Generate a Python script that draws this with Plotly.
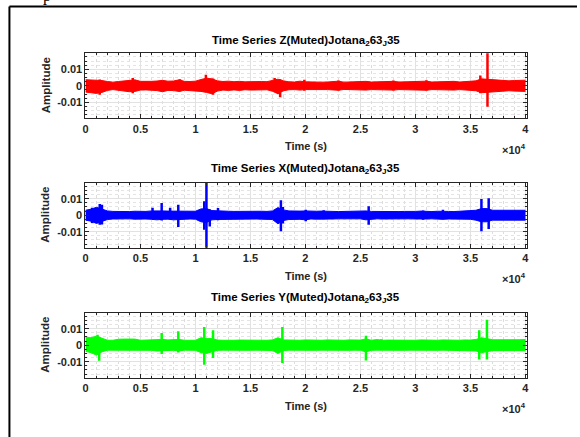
import numpy as np
import plotly.graph_objects as go

W, H = 580, 437

# ---------------- data (amplitudes in units of 1e-3) ----------------
t_grid = list(range(0, 40001, 500))  # envelope sample times (s)

z_up = [3.7, 3.5, 3.5, 3.2, 2.6, 2.2, 2.6, 2.9, 3.4, 3.6, 2.7, 2.5, 2.7, 2.9, 3.3, 2.8, 2.9, 3.6, 2.7, 2.6,
        2.8, 3.8, 4.6, 4.2, 3.0, 2.6, 2.8, 2.5, 2.7, 2.4, 2.6, 2.4, 2.6, 2.5, 3.2, 4.0, 3.0, 2.4, 2.3, 2.8,
        2.4, 2.2, 2.4, 2.2, 2.3, 2.5, 2.8, 2.2, 2.4, 2.3, 2.5, 2.7, 2.3, 2.4, 2.2, 2.5, 2.7, 2.3, 2.4, 2.2,
        2.4, 2.5, 2.8, 2.3, 2.4, 2.6, 2.4, 2.7, 2.3, 2.5, 2.6, 3.0, 4.2, 4.0, 3.6, 3.2, 3.3, 3.0, 3.2, 3.1, 3.4]
z_lo = [-3.8, -4.0, -4.6, -4.0, -2.8, -2.3, -2.6, -3.0, -3.6, -3.4, -2.6, -2.5, -2.7, -2.9, -3.6, -2.8, -2.9, -3.4, -2.7, -2.8,
        -2.9, -3.4, -4.0, -4.8, -3.2, -2.6, -2.8, -2.5, -2.8, -2.4, -2.6, -2.5, -2.6, -2.4, -3.3, -4.8, -3.0, -2.4, -2.3, -2.6,
        -2.3, -2.2, -2.4, -2.2, -2.3, -2.5, -2.7, -2.2, -2.4, -2.3, -2.5, -2.6, -2.3, -2.4, -2.2, -2.5, -2.6, -2.3, -2.4, -2.2,
        -2.4, -2.5, -2.7, -2.3, -2.4, -2.5, -2.4, -2.6, -2.3, -2.5, -2.6, -3.0, -4.2, -4.0, -3.6, -3.2, -3.3, -3.0, -3.2, -3.1, -3.4]
z_ev_t = [1300, 4300, 8600, 10950, 11600, 17200, 17700, 19900, 23000, 28000, 31000, 35900, 36550]
z_ev_up = [3.8, 4.7, 4.0, 6.7, 4.5, 4.7, 4.0, 3.7, 3.2, 3.2, 3.3, 6.2, 25.0]
z_ev_lo = [-5.5, -4.5, -3.5, -3.5, -5.5, -3.0, -7.0, -3.0, -2.8, -2.8, -2.9, -4.5, -12.7]

x_up = [3.0, 3.6, 4.8, 3.8, 2.6, 2.3, 2.2, 2.3, 2.2, 2.4, 2.2, 2.3, 2.6, 2.8, 2.6, 2.5, 2.5, 2.4, 2.3, 2.3,
        2.4, 3.8, 4.0, 2.8, 2.8, 2.5, 2.4, 2.3, 2.4, 2.3, 2.4, 2.3, 2.4, 2.3, 2.6, 4.6, 3.2, 2.6, 2.4, 2.5,
        2.6, 2.3, 2.4, 2.5, 2.2, 2.3, 2.2, 2.3, 2.2, 2.3, 2.2, 2.6, 2.3, 2.2, 2.3, 2.2, 2.3, 2.2, 2.3, 2.2,
        2.3, 2.5, 2.3, 2.2, 2.4, 2.5, 2.3, 2.2, 2.3, 2.4, 2.5, 3.0, 4.0, 4.0, 3.0, 3.0, 2.9, 2.8, 2.9, 2.8, 3.0]
x_lo = [-3.0, -3.6, -5.0, -3.6, -2.6, -2.3, -2.2, -2.3, -2.2, -2.4, -2.2, -2.3, -2.5, -2.8, -2.5, -2.4, -2.8, -2.6, -2.3, -2.3,
        -2.4, -4.0, -4.5, -2.8, -2.6, -2.5, -2.4, -2.3, -2.4, -2.3, -2.4, -2.3, -2.4, -2.3, -2.6, -5.2, -3.2, -2.6, -2.4, -2.5,
        -2.8, -2.3, -2.4, -2.5, -2.2, -2.3, -2.2, -2.3, -2.2, -2.3, -2.2, -2.8, -2.3, -2.2, -2.3, -2.2, -2.3, -2.2, -2.3, -2.2,
        -2.3, -2.5, -2.3, -2.2, -2.4, -2.5, -2.3, -2.2, -2.3, -2.4, -2.5, -3.0, -4.0, -4.0, -3.0, -3.0, -2.9, -2.8, -2.9, -2.8, -3.0]
x_ev_t = [600, 1300, 1500, 6100, 6930, 7700, 8440, 10800, 11000, 11300, 12050, 17770, 17950, 20030, 21660, 25750,
          30700, 32500, 36000, 36660]
x_ev_up = [4.5, 6.8, 6.4, 4.5, 7.4, 4.5, 6.4, 8.4, 25.0, 3.5, 4.3, 9.0, 5.0, 3.3, 3.0, 5.4, 2.8, 3.3, 9.8, 10.3]
x_ev_lo = [-4.7, -5.8, -5.6, -2.5, -3.2, -2.5, -7.2, -8.8, -25.0, -6.8, -3.0, -9.8, -5.0, -3.7, -2.5, -5.8, -2.8, -2.5, -9.8, -8.4]

y_up = [5.0, 4.5, 5.5, 4.0, 3.0, 3.0, 3.6, 3.7, 3.6, 3.7, 3.0, 3.1, 3.0, 3.5, 3.5, 3.2, 3.2, 3.5, 3.0, 3.1,
        3.0, 4.5, 4.0, 4.0, 3.1, 3.0, 3.2, 3.0, 3.1, 3.0, 3.1, 3.0, 3.1, 3.0, 3.2, 4.5, 3.2, 3.0, 3.1, 3.0,
        3.2, 3.0, 3.1, 3.0, 3.2, 3.0, 3.1, 3.0, 3.2, 3.0, 3.1, 3.8, 3.0, 3.4, 3.0, 3.1, 3.0, 3.2, 3.0, 3.1,
        3.0, 3.2, 3.0, 3.1, 3.0, 3.2, 3.0, 3.1, 3.0, 3.2, 3.1, 3.5, 4.5, 4.0, 3.3, 3.3, 3.2, 3.3, 3.2, 3.3, 3.4]
y_lo = [-3.7, -4.5, -6.0, -4.0, -3.0, -3.0, -3.0, -3.1, -3.0, -3.1, -3.0, -3.0, -3.1, -3.5, -3.2, -3.2, -3.1, -3.5, -3.0, -3.0,
        -3.1, -4.5, -5.0, -4.0, -3.1, -3.0, -3.1, -3.0, -3.1, -3.0, -3.1, -3.0, -3.1, -3.0, -3.2, -5.0, -3.2, -3.0, -3.1, -3.0,
        -3.1, -3.0, -3.1, -3.0, -3.1, -3.0, -3.1, -3.0, -3.1, -3.0, -3.1, -4.0, -3.1, -3.0, -3.1, -3.0, -3.1, -3.0, -3.1, -3.0,
        -3.1, -3.0, -3.1, -3.0, -3.1, -3.0, -3.1, -3.0, -3.1, -3.0, -3.1, -3.5, -4.5, -4.0, -3.3, -3.3, -3.2, -3.3, -3.2, -3.3, -3.4]
y_ev_t = [1100, 1250, 6930, 8440, 10800, 11600, 17900, 25500, 26900, 35800, 36500]
y_ev_up = [6.4, 5.0, 7.4, 8.4, 11.0, 9.0, 11.0, 5.8, 3.6, 9.0, 15.5]
y_ev_lo = [-5.0, -9.4, -5.3, -4.5, -11.8, -7.8, -10.8, -9.3, -3.0, -8.7, -8.7]

titles = ["Time Series Z(Muted)Jotana<sub>2</sub>63<sub>J</sub>35",
          "Time Series X(Muted)Jotana<sub>2</sub>63<sub>J</sub>35",
          "Time Series Y(Muted)Jotana<sub>2</sub>63<sub>J</sub>35"]
colors = ["#FF0000", "#0000FF", "#00FF00"]
x_tick_vals = [0, 5000, 10000, 15000, 20000, 25000, 30000, 35000, 40000]
x_tick_text = ["0", "0.5", "1", "1.5", "2", "2.5", "3", "3.5", "4"]
y_tick_vals = [-0.01, 0, 0.01]
y_tick_text = ["-0.01", "0", "0.01"]

series = [(z_up, z_lo, z_ev_t, z_ev_up, z_ev_lo),
          (x_up, x_lo, x_ev_t, x_ev_up, x_ev_lo),
          (y_up, y_lo, y_ev_t, y_ev_up, y_ev_lo)]

# ---------------- layout geometry (pixels) ----------------
box_left, box_right = 83.3, 529.0
box_tops = [53.3, 182.7, 312.7]
box_h = 65.0
title_y = [41, 169, 298]
xlabel_y = [146, 276, 406]
x10_y = [149, 278, 408]

FONT = "Liberation Sans, Arial, Helvetica, sans-serif"
AXC = "#262626"

fig = go.Figure()
annotations = []
shapes = []

def px(x):
    return x / W

def py(y):
    return 1 - y / H

for i, (up, lo, ev_t, ev_up, ev_lo) in enumerate(series):
    n = i + 1
    xa = "x" if n == 1 else f"x{n}"
    ya = "y" if n == 1 else f"y{n}"
    c = colors[i]
    up_v = np.array(up) * 1e-3
    lo_v = np.array(lo) * 1e-3
    fig.add_trace(go.Scatter(x=t_grid, y=lo_v, mode="lines", line=dict(color=c, width=1),
                             xaxis=xa, yaxis=ya, showlegend=False, hoverinfo="skip"))
    fig.add_trace(go.Scatter(x=t_grid, y=up_v, mode="lines", line=dict(color=c, width=1),
                             fill="tonexty", fillcolor=c,
                             xaxis=xa, yaxis=ya, showlegend=False, hoverinfo="skip"))
    ex, ey = [], []
    for t, a, b in zip(ev_t, ev_up, ev_lo):
        ex += [t, t, None]
        ey += [a * 1e-3, b * 1e-3, None]
    fig.add_trace(go.Scatter(x=ex, y=ey, mode="lines", line=dict(color=c, width=2.5),
                             xaxis=xa, yaxis=ya, showlegend=False, hoverinfo="skip"))

    top = box_tops[i]
    bot = top + box_h
    axis_common = dict(showline=True, linecolor=AXC, linewidth=1, mirror="ticks",
                       ticks="inside", ticklen=4, tickcolor=AXC, tickwidth=0.8,
                       showgrid=True, gridcolor="#e2e2e2", gridwidth=0.8, zeroline=False,
                       tickfont=dict(family=FONT, size=11, color=AXC, weight="bold"))
    fig.layout[f"xaxis{'' if n == 1 else n}"] = dict(
        axis_common, domain=[px(box_left), px(box_right)], anchor=ya,
        range=[0, 40100], tickmode="array", tickvals=x_tick_vals, ticktext=x_tick_text,
        minor=dict(dtick=1000, tick0=0, showgrid=True, gridcolor="#dcdcdc", griddash="dot",
                   gridwidth=0.6, ticks="inside", ticklen=2, tickcolor=AXC))
    fig.layout[f"yaxis{'' if n == 1 else n}"] = dict(
        axis_common, domain=[py(bot), py(top)], anchor=xa,
        range=[-0.0197, 0.0197], tickmode="array", tickvals=y_tick_vals, ticktext=y_tick_text,
        minor=dict(dtick=0.0025, tick0=0, showgrid=True, gridcolor="#e4e4e4", griddash="dot",
                   gridwidth=0.6, ticks="inside", ticklen=2, tickcolor=AXC))

    cx = (box_left + box_right) / 2
    annotations.append(dict(text=titles[i], x=px(cx), y=py(title_y[i]), xref="paper", yref="paper",
                            xanchor="center", yanchor="middle", showarrow=False,
                            font=dict(family=FONT, size=11.5, color="black", weight="bold")))
    annotations.append(dict(text="Time (s)", x=px(cx), y=py(xlabel_y[i]), xref="paper", yref="paper",
                            xanchor="center", yanchor="middle", showarrow=False,
                            font=dict(family=FONT, size=11, color=AXC, weight="bold")))
    annotations.append(dict(text="×10<sup>4</sup>", x=px(box_right + 1), y=py(x10_y[i]), xref="paper",
                            yref="paper", xanchor="right", yanchor="middle", showarrow=False,
                            font=dict(family=FONT, size=11, color=AXC, weight="bold")))
    annotations.append(dict(text="Amplitude", x=px(43), y=py(top + box_h / 2), xref="paper", yref="paper",
                            xanchor="center", yanchor="middle", showarrow=False, textangle=-90,
                            font=dict(family=FONT, size=11.5, color=AXC, weight="bold")))

# partial glyph cut off at top of the page
annotations.append(dict(text="p", x=px(44), y=py(-4), xref="paper", yref="paper",
                        xanchor="center", yanchor="middle", showarrow=False,
                        font=dict(family="Liberation Serif, Times New Roman, serif", size=16, color="black")))

# page frame
shapes.append(dict(type="line", xref="paper", yref="paper", x0=px(6.5), x1=1, y0=py(6.5), y1=py(6.5),
                   line=dict(color="black", width=2)))
shapes.append(dict(type="line", xref="paper", yref="paper", x0=px(6.5), x1=px(6.5), y0=py(6.5), y1=0,
                   line=dict(color="black", width=2)))

fig.update_layout(width=W, height=H, margin=dict(l=0, r=0, t=0, b=0),
                  paper_bgcolor="white", plot_bgcolor="white",
                  annotations=annotations, shapes=shapes, showlegend=False)

fig.write_html("out.html", config={"displayModeBar": False},
               post_script="document.body.style.margin='0';document.body.style.overflow='hidden';")
